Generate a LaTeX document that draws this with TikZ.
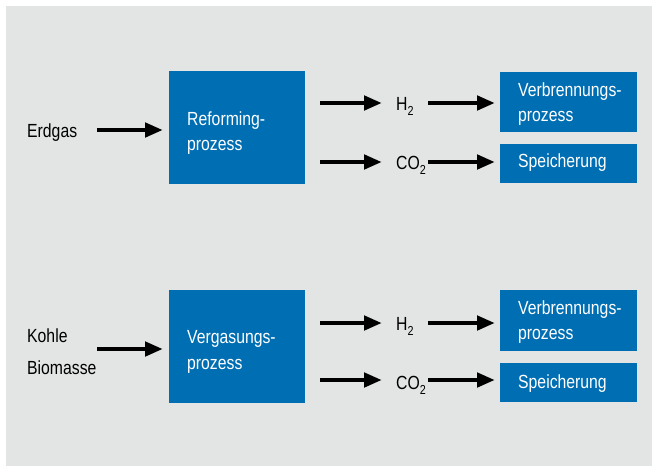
\documentclass[tikz,border=0pt]{standalone}
\usepackage{fontspec}
\setmainfont{Liberation Sans}[FakeStretch=0.83]
\usetikzlibrary{arrows.meta}
\definecolor{panelgrey}{RGB}{227,228,228}
\definecolor{boxblue}{RGB}{0,110,178}
\newcommand{\sub}[1]{\raisebox{-5pt}{\fontsize{13}{13}\selectfont #1}}
\begin{document}
\begin{tikzpicture}[x=1pt,y=-1pt,
  box/.style={fill=boxblue, draw=none, anchor=north west, inner sep=0, outer sep=0},
  wtxt/.style={text=white, anchor=base west, inner sep=0, font=\fontsize{19}{25}\selectfont},
  ktxt/.style={text=black, anchor=base west, inner sep=0, font=\fontsize{19}{25}\selectfont},
  chem/.style={text=black, anchor=base west, inner sep=0, font=\fontsize{19}{22}\selectfont},
  arr/.style={line width=4.5pt, -{Triangle[length=18pt,width=14pt]}}]
\useasboundingbox (0,0) rectangle (652,466);
\fill[white] (0,0) rectangle (652,466);
\fill[panelgrey] (6,6) rectangle (652,466);

% ---------- top row ----------
\node[box, minimum width=136pt, minimum height=113pt] (ref) at (169,71) {};
\node[wtxt] (reft1) at (187,125) {Reforming-};
\node[wtxt] (reft2) at (187,150) {prozess};
\node[ktxt] (erd) at (27,137) {Erdgas};
\coordinate (erdA) at (97,130);
\coordinate (erdB) at (163,130);
\draw[arr] (erdA) -- (erdB);

\node[box, minimum width=137pt, minimum height=60pt] (vb1) at (500,72) {};
\node[wtxt] (vb1t1) at (518,96) {Verbrennungs-};
\node[wtxt] (vb1t2) at (518,121) {prozess};
\node[box, minimum width=137pt, minimum height=39pt] (sp1) at (500,144) {};
\node[wtxt] (sp1t) at (518,167) {Speicherung};

\node[chem] (h2a) at (396,110) {H\sub{2}};
\node[chem] (co2a) at (396,169) {CO\sub{2}};
\coordinate (h2aL) at (320,103); \coordinate (h2aR) at (382,103);
\coordinate (h2bL) at (428,103); \coordinate (h2bR) at (495,103);
\coordinate (co2aL) at (320,162); \coordinate (co2aR) at (382,162);
\coordinate (co2bL) at (428,162); \coordinate (co2bR) at (495,162);
\draw[arr] (h2aL) -- (h2aR);
\draw[arr] (h2bL) -- (h2bR);
\draw[arr] (co2aL) -- (co2aR);
\draw[arr] (co2bL) -- (co2bR);

% ---------- bottom row ----------
\node[box, minimum width=136pt, minimum height=113pt] (verg) at (169,290) {};
\node[wtxt] (vergt1) at (187,343) {Vergasungs-};
\node[wtxt] (vergt2) at (187,369) {prozess};
\node[ktxt] (kohle) at (27,342) {Kohle};
\node[ktxt] (bio) at (27,374) {Biomasse};
\coordinate (kbA) at (97,349);
\coordinate (kbB) at (163,349);
\draw[arr] (kbA) -- (kbB);

\node[box, minimum width=137pt, minimum height=61pt] (vb2) at (500,290) {};
\node[wtxt] (vb2t1) at (518,314) {Verbrennungs-};
\node[wtxt] (vb2t2) at (518,339) {prozess};
\node[box, minimum width=137pt, minimum height=39pt] (sp2) at (500,363) {};
\node[wtxt] (sp2t) at (518,388) {Speicherung};

\node[chem] (h2c) at (396,330) {H\sub{2}};
\node[chem] (co2c) at (396,389) {CO\sub{2}};
\coordinate (h2cL) at (320,323); \coordinate (h2cR) at (382,323);
\coordinate (h2dL) at (428,323); \coordinate (h2dR) at (495,323);
\coordinate (co2cL) at (320,380); \coordinate (co2cR) at (382,380);
\coordinate (co2dL) at (428,380); \coordinate (co2dR) at (495,380);
\draw[arr] (h2cL) -- (h2cR);
\draw[arr] (h2dL) -- (h2dR);
\draw[arr] (co2cL) -- (co2cR);
\draw[arr] (co2dL) -- (co2dR);
\end{tikzpicture}
\end{document}
